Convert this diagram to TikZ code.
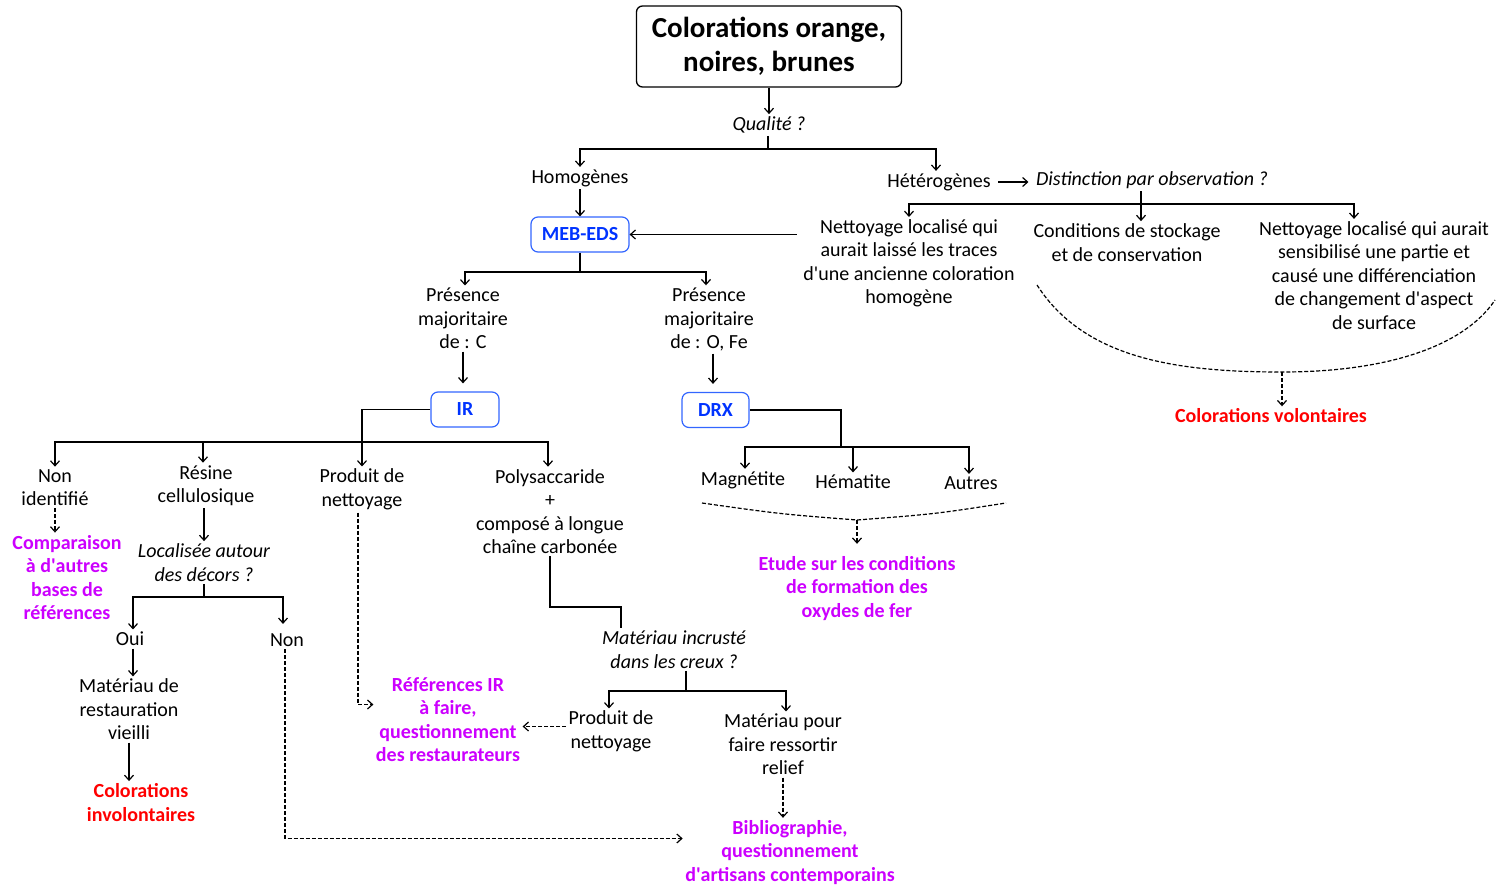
\documentclass[tikz,border=0pt]{standalone}
\usepackage{fontspec}
\setmainfont{Carlito}
\usetikzlibrary{arrows.meta}

\begin{document}
\begin{tikzpicture}[x=1pt,y=-1pt,
    >={Straight Barb[length=5pt,width=9pt]},
    line width=1.2pt,
    txt/.style={align=center,inner sep=2pt,font=\fontsize{20}{23.5}\selectfont},
    qtxt/.style={txt,font=\fontsize{20}{23.5}\selectfont\itshape},
    restxt/.style={txt,font=\fontsize{20}{23.5}\selectfont\bfseries,text=resPurple},
    colortxt/.style={txt,font=\fontsize{20}{23.5}\selectfont\bfseries,text=resRed},
    methbox/.style={draw=boxBlue,rounded corners=7pt,line width=1.2pt,text=methBlue,
        font=\fontsize{20}{23.5}\selectfont\bfseries,minimum height=35pt},
    arr/.style={->},
    dsh/.style={dash pattern=on 4pt off 2pt,line width=1.2pt}]

    \definecolor{methBlue}{HTML}{0033FF}
    \definecolor{boxBlue}{HTML}{3366FF}
    \definecolor{resPurple}{HTML}{CC00FF}
    \definecolor{resRed}{HTML}{FF0000}

    \def\ap{\textquotesingle}

    \useasboundingbox (0,0) rectangle (1496,888);

    % Title and first question
    \node[draw,rounded corners=6pt,line width=1.3pt,align=center,minimum width=265pt,minimum height=81pt,
        font=\fontsize{29}{33.5}\selectfont\bfseries] (title) at (769,46.5) {Colorations orange,\\noires, brunes};
    \node[qtxt] (qual) at (769,125) {Qualité ?};
    \draw[arr] (title.south) -- (title.south |- qual.north);

    \node[txt] (homo) at (580,178) {Homogènes};
    \node[txt] (hetero) at (939,182) {Hétérogènes};
    \node[qtxt] (dist) at (1152,180) {Distinction par observation ?};

    \coordinate (qfork) at (768,149);
    \draw (qfork |- qual.south) -- (qfork);
    \draw[arr] (qfork) -| (homo.north);
    \draw[arr] (qfork) -| ([xshift=-3pt]hetero.north);
    \draw[arr,shorten >=5pt,shorten <=5pt] (hetero.east) -- (hetero.east -| dist.west);

    % Heterogeneous branch
    \node[txt] (nett1) at (909,263.5) {Nettoyage localisé qui\\aurait laissé les traces\\d\ap une ancienne coloration\\homogène};
    \node[txt] (cond) at (1127,242.5) {Conditions de stockage\\et de conservation};
    \node[txt] (nett2) at (1374,275.5) {Nettoyage localisé qui aurait\\sensibilisé une partie et\\causé une différenciation\\de changement d\ap aspect\\de surface};

    \coordinate (dfork) at (1141,204);
    \draw[arr] (dfork |- dist.south) -- (dfork |- cond.north);
    \draw[arr] (dfork) -| (nett1.north);
    \draw[arr] (dfork) -| ([xshift=-20pt]nett2.north);

    \node[colortxt] (vol) at (1271,416) {Colorations volontaires};
    \coordinate (cL) at (1037,285);
    \coordinate (volc) at (1282,372);
    \coordinate (cR) at (1495,300);
    \draw[dsh] (cL) .. controls (1085,360) and (1180,372) .. (volc) .. controls (1390,372) and (1465,345) .. (cR);
    \draw[dsh,arr] (volc) -- (volc |- vol.north);

    % Homogeneous branch
    \node[methbox,minimum width=98pt] (meb) at (580,234.5) {MEB-EDS};
    \draw[arr] (homo.south) -- (meb.north);
    \draw[arr,shorten <=4pt] (nett1.west |- meb.east) -- (meb.east);

    \node[txt] (presC) at (463,318.5) {Présence\\majoritaire\\de : C};
    \node[txt] (presO) at (709,319.5) {Présence\\majoritaire\\de : O, Fe};
    \coordinate (mfork) at (580,272);
    \draw (meb.south) -- (mfork);
    \draw[arr] (mfork) -| ([xshift=2pt]presC.north);
    \draw[arr] (mfork) -| ([xshift=-3pt]presO.north);

    \node[methbox,minimum width=68pt] (ir) at (465,409.5) {IR};
    \node[methbox,minimum width=67pt] (drx) at (715.5,410) {DRX};
    \draw[arr,shorten >=8pt] (presC.south) -- (presC.south |- ir.north);
    \draw[arr,shorten >=8pt] ([xshift=4pt]presO.south) -- ([xshift=4pt]presO.south |- drx.north);

    % IR results
    \node[txt] (nonid) at (55,487.5) {Non\\identifié};
    \node[txt] (resine) at (206,485.5) {Résine\\cellulosique};
    \node[txt] (prod1) at (362,489.5) {Produit de\\nettoyage};
    \node[txt] (poly) at (550,511.5) {Polysaccaride\\+\\composé à longue\\chaîne carbonée};

    \coordinate (irfork) at (362,442);
    \draw[arr] (ir.west) -| (prod1.north);
    \draw[arr] (irfork) -| (nonid.north);
    \draw[arr] (irfork) -| ([xshift=-2pt]poly.north);
    \draw[arr] ([xshift=-3pt]resine.north |- irfork) -- ([xshift=-3pt]resine.north);

    \node[restxt] (comp) at (67,577.5) {Comparaison\\à d\ap autres\\bases de\\références};
    \draw[dsh,arr] (nonid.south) -- (nonid.south |- comp.north);

    \node[qtxt] (loc) at (204,562.5) {Localisée autour\\des décors ?};
    \draw[arr] ([xshift=-2pt]resine.south) -- ([xshift=-2pt]resine.south |- loc.north);

    \node[txt] (oui) at (130,639) {Oui};
    \node[txt] (non) at (287,640) {Non};
    \coordinate (lfork) at (204,597);
    \draw (loc.south) -- (lfork);
    \draw[arr] (lfork) -| ([xshift=3pt]oui.north);
    \draw[arr,shorten >=7pt] (lfork) -| ([xshift=-4pt]non.north);

    \node[txt] (mat1) at (129,709.5) {Matériau de\\restauration\\vieilli};
    \draw[arr] ([xshift=3pt]oui.south) -- ([xshift=3pt]oui.south |- mat1.north);
    \node[colortxt] (colinv) at (141,802.5) {Colorations\\involontaires};
    \draw[arr] (mat1.south) -- (mat1.south |- colinv.north);

    \node[restxt] (refir) at (448,719.5) {Références IR\\à faire,\\questionnement\\des restaurateurs};
    \draw[dsh,arr] ([xshift=-4pt]prod1.south) |- ([yshift=15pt]refir.west);

    % Polysaccharide branch
    \node[qtxt] (matinc) at (674,649.5) {Matériau incrusté\\dans les creux ?};
    \coordinate (pbend) at (621,607);
    \draw (poly.south) |- (pbend) -- (pbend |- matinc.north);

    \node[txt] (prod2) at (611,731.5) {Produit de\\nettoyage};
    \node[txt] (matpour) at (783,744.5) {Matériau pour\\faire ressortir\\relief};
    \coordinate (mfork2) at (686,691);
    \draw (mfork2 |- matinc.south) -- (mfork2);
    \draw[arr] (mfork2) -| ([xshift=-2pt]prod2.north);
    \draw[arr] (mfork2) -| ([xshift=3pt]matpour.north);
    \draw[dsh,arr] ([yshift=5pt]prod2.west) -- ([yshift=5pt]prod2.west -| refir.east);

    \node[restxt] (biblio) at (790,852.5) {Bibliographie,\\questionnement\\d\ap artisans contemporains};
    \draw[dsh,arr] (matpour.south) -- (matpour.south |- biblio.north);
    \draw[dsh,arr] ([xshift=-2pt]non.south) |- ([yshift=14pt]biblio.west);

    % DRX results
    \node[txt] (magn) at (743,480) {Magnétite};
    \node[txt] (hema) at (853,482) {Hématite};
    \node[txt] (autres) at (971,483) {Autres};
    \coordinate (dfork2) at (841,447);
    \draw (drx.east) -| (dfork2);
    \draw[arr] (dfork2) -| ([xshift=2pt]magn.north);
    \draw[arr] (dfork2) -| ([xshift=-2pt]autres.north);
    \draw[arr] (hema.north |- dfork2) -- (hema.north);

    \node[restxt] (etude) at (857,588.5) {Etude sur les conditions\\de formation des\\oxydes de fer};
    \coordinate (eL) at (702,503);
    \coordinate (eC) at (857,520);
    \coordinate (eR) at (1006,503);
    \draw[dsh] (eL) .. controls (780,514) .. (eC) .. controls (935,514) .. (eR);
    \draw[dsh,arr,shorten >=10pt] (eC) -- (eC |- etude.north);

\end{tikzpicture}
\end{document}
